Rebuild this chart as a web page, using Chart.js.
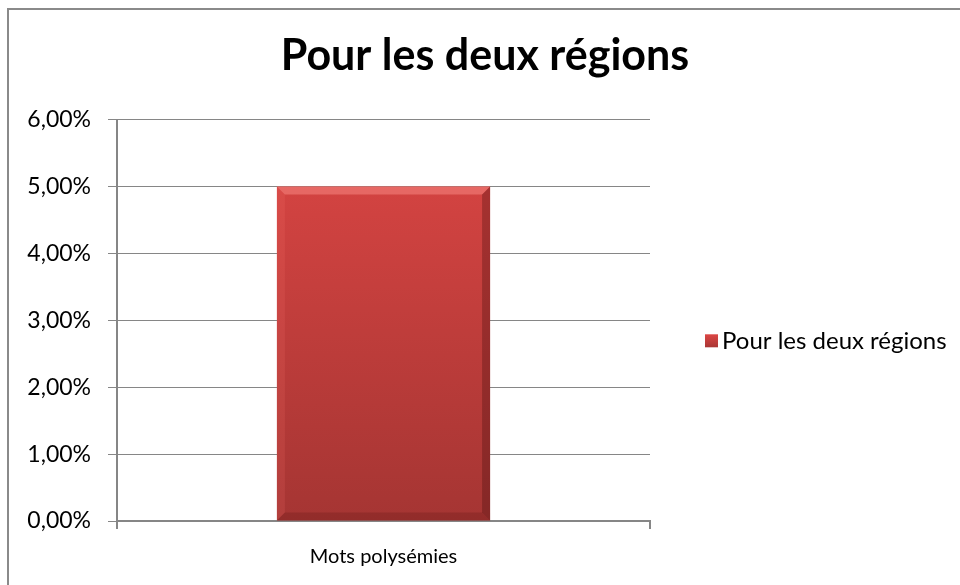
<!DOCTYPE html>
<html>
<head>
<meta charset="utf-8">
<script src="https://cdn.jsdelivr.net/npm/chart.js@4.4.1/dist/chart.umd.min.js"></script>
<style>
  html, body { margin: 0; padding: 0; background: #fff; }
  #wrap { position: relative; width: 960px; height: 585px; }
  #frame { position: absolute; left: 7px; top: 8px; right: -5px; bottom: -5px;
           border-left: 2px solid #8a8a8a; border-top: 2px solid #8a8a8a; }
  canvas { position: absolute; left: 0; top: 0; }
</style>
</head>
<body>
<div id="wrap">
  <div id="frame"></div>
  <canvas id="chart" width="960" height="585"></canvas>
</div>
<script>
// données du graphique
const categories = ['Mots polysémies'];
const seriesName = 'Pour les deux régions';
const values = [0.05];
const yTicks = [0, 0.01, 0.02, 0.03, 0.04, 0.05, 0.06];

const fontFamily = "Lato, 'Open Sans', sans-serif";

// dégradé vertical du rouge
function barGradient(context) {
    const area = context.chart.chartArea;
    if (!area) return '#c83e3c';
    const g = context.chart.ctx.createLinearGradient(0, area.top, 0, area.bottom);
    g.addColorStop(0, '#dc4644');
    g.addColorStop(1, '#a53533');
    return g;
}

// petit effet de biseau sur les barres
const bevelPlugin = {
    id: 'bevel',
    afterDatasetsDraw(chart) {
        const ctx = chart.ctx;
        chart.getDatasetMeta(0).data.forEach(bar => {
            const l = bar.x - bar.width / 2, r = bar.x + bar.width / 2;
            const t = bar.y, b = bar.base;
            const d = 8;
            ctx.save();
            ctx.fillStyle = 'rgba(255,150,145,0.45)';
            ctx.beginPath();
            ctx.moveTo(l, t); ctx.lineTo(r, t); ctx.lineTo(r - d, t + d); ctx.lineTo(l + d, t + d);
            ctx.closePath(); ctx.fill();
            ctx.fillStyle = 'rgba(255,120,115,0.15)';
            ctx.beginPath();
            ctx.moveTo(l, t); ctx.lineTo(l + d, t + d); ctx.lineTo(l + d, b - d); ctx.lineTo(l, b);
            ctx.closePath(); ctx.fill();
            ctx.fillStyle = 'rgba(60,10,10,0.3)';
            ctx.beginPath();
            ctx.moveTo(r, t); ctx.lineTo(r - d, t + d); ctx.lineTo(r - d, b - d); ctx.lineTo(r, b);
            ctx.closePath(); ctx.fill();
            ctx.fillStyle = 'rgba(80,15,15,0.22)';
            ctx.beginPath();
            ctx.moveTo(l, b); ctx.lineTo(l + d, b - d); ctx.lineTo(r - d, b - d); ctx.lineTo(r, b);
            ctx.closePath(); ctx.fill();
            ctx.restore();
        });
    }
};

// légende à droite, dans l'espace réservé par l'axe vide de droite
const sideLegend = {
    id: 'sideLegend',
    afterDraw(chart) {
        const ctx = chart.ctx;
        const area = chart.chartArea;
        const ds = chart.data.datasets[0];
        const x = area.right + 55;
        const y = (area.top + area.bottom) / 2 + 21;
        ctx.save();
        const g = ctx.createLinearGradient(0, y - 7, 0, y + 7);
        g.addColorStop(0, '#dc4644');
        g.addColorStop(1, '#a53533');
        ctx.fillStyle = g;
        ctx.fillRect(x, y - 7, 13, 13);
        ctx.fillStyle = '#000';
        ctx.font = '24px ' + fontFamily;
        ctx.textBaseline = 'middle';
        ctx.fillText(ds.label, x + 17, y);
        ctx.restore();
    }
};

const ctx = document.getElementById('chart').getContext('2d');
new Chart(ctx, {
    type: 'bar',
    data: {
        labels: categories,
        datasets: [{
            label: seriesName,
            data: values,
            backgroundColor: barGradient,
            borderWidth: 0,
            categoryPercentage: 0.4,
            barPercentage: 1
        }]
    },
    options: {
        responsive: false,
        animation: false,
        layout: { padding: { left: 20, right: 10, top: 8, bottom: 0 } },
        scales: {
            x: {
                grid: { display: true, drawOnChartArea: false, offset: true, color: '#868686', tickLength: 8, lineWidth: 2 },
                border: { color: '#868686', width: 2 },
                ticks: { color: '#000', font: { family: fontFamily, size: 20 }, padding: 16 }
            },
            y: {
                min: 0,
                max: 0.06,
                afterBuildTicks(axis) { axis.ticks = yTicks.map(v => ({ value: v })); },
                afterFit(axis) { axis.width = 97; },
                grid: { color: '#868686', tickLength: 9, lineWidth: 1 },
                border: { color: '#868686', width: 2 },
                ticks: {
                    color: '#000',
                    font: { family: fontFamily, size: 23 },
                    padding: 17,
                    callback: v => (v * 100).toFixed(2).replace('.', ',') + '%'
                }
            },
            // axe vide qui réserve la place de la légende
            side: {
                position: 'right',
                display: true,
                grid: { display: false },
                border: { display: false },
                ticks: { display: false },
                afterFit(axis) { axis.width = 300; }
            }
        },
        plugins: {
            title: {
                display: true,
                text: 'Pour les deux régions',
                color: '#000',
                font: { family: fontFamily, size: 43, weight: 'bold' },
                padding: { top: 22, bottom: 38 }
            },
            legend: { display: false },
            tooltip: { enabled: false }
        }
    },
    plugins: [bevelPlugin, sideLegend]
});
</script>
</body>
</html>
